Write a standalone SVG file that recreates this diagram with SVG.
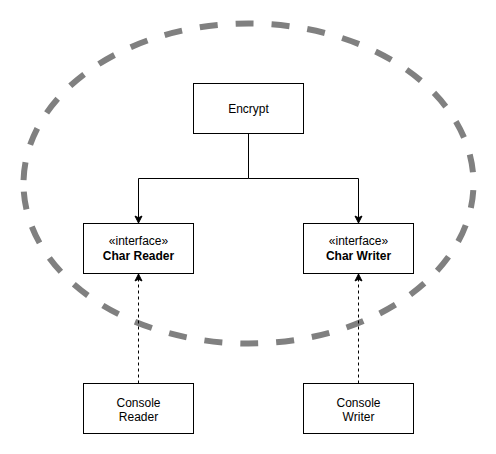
<svg xmlns="http://www.w3.org/2000/svg" width="496" height="454" viewBox="0 0 496 454">
<style>
.box{fill:#fff;stroke:#000;stroke-width:1}
.t{font-family:"Liberation Sans",Arial,sans-serif;font-size:12px;fill:#000;text-anchor:middle}
.b{font-weight:bold}
.edge{fill:none;stroke:#000;stroke-width:1}
.dash{stroke-dasharray:3 3}
</style>
<defs>
<marker id="arr" markerUnits="userSpaceOnUse" markerWidth="12" markerHeight="12" viewBox="-10 -6 12 12" refX="0" refY="0" orient="auto">
<path d="M0,0 L-7,-3.5 L-5.25,0 L-7,3.5 Z" fill="#000" stroke="#000" stroke-width="1"/>
</marker>
</defs>
<rect width="496" height="454" fill="#fff"/>
<g id="boundary">
<path d="M23.5,183.5 A225,160 0 0 1 248.5,23.5 A225,160 0 0 1 473.5,183.5 A225,160 0 0 1 248.5,343.5 A225,160 0 0 1 23.5,183.5 Z" fill="none" stroke="#808080" stroke-width="6" stroke-dasharray="18 18" stroke-dashoffset="32.5"/>
</g>
<g id="connectors">
<path class="edge" d="M248.5,133.5 V178.5 H138.5 V223" marker-end="url(#arr)"/>
<path class="edge" d="M248.5,178.5 H358.5 V223" marker-end="url(#arr)"/>
<path class="edge dash" d="M138.5,383.5 V274" marker-end="url(#arr)"/>
<path class="edge dash" d="M358.5,383.5 V274" marker-end="url(#arr)"/>
</g>
<g id="encrypt">
<rect class="box" x="193.5" y="83.5" width="110" height="50"/>
<text class="t" x="248.5" y="112.5">Encrypt</text>
</g>
<g id="char-reader">
<rect class="box" x="83.5" y="223.5" width="110" height="50"/>
<text class="t" x="138.5" y="245">«interface»</text>
<text class="t b" x="138.5" y="260">Char Reader</text>
</g>
<g id="char-writer">
<rect class="box" x="303.5" y="223.5" width="110" height="50"/>
<text class="t" x="358.5" y="245">«interface»</text>
<text class="t b" x="358.5" y="260">Char Writer</text>
</g>
<g id="console-reader">
<rect class="box" x="83.5" y="383.5" width="110" height="50"/>
<text class="t" x="138.5" y="406.5">Console</text>
<text class="t" x="138.5" y="420.5">Reader</text>
</g>
<g id="console-writer">
<rect class="box" x="303.5" y="383.5" width="110" height="50"/>
<text class="t" x="358.5" y="406.5">Console</text>
<text class="t" x="358.5" y="420.5">Writer</text>
</g>
</svg>
